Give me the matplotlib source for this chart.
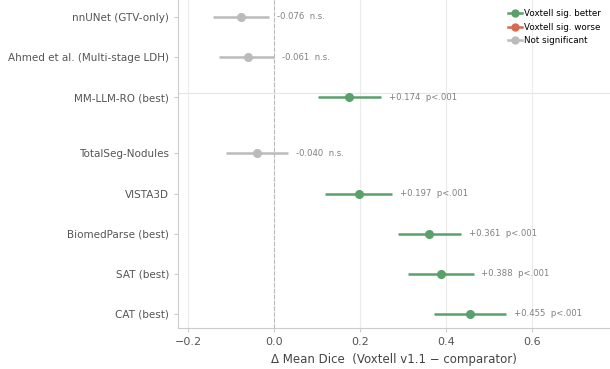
import matplotlib
matplotlib.use("Agg")
import matplotlib.pyplot as plt
from matplotlib.lines import Line2D

labels = ["CAT (best)", "SAT (best)", "BiomedParse (best)", "VISTA3D",
          "TotalSeg-Nodules", "MM-LLM-RO (best)", "Ahmed et al. (Multi-stage LDH)",
          "nnUNet (GTV-only)"]
ypos = [0, 1, 2, 3, 4, 5.4, 6.4, 7.4]
delta = [0.455, 0.388, 0.361, 0.197, -0.040, 0.174, -0.061, -0.076]
ci_lo = [0.372, 0.312, 0.288, 0.119, -0.112, 0.102, -0.128, -0.142]
ci_hi = [0.540, 0.464, 0.435, 0.274, 0.033, 0.249, 0.001, -0.012]
pval = ["p<.001", "p<.001", "p<.001", "p<.001", "n.s.", "p<.001", "n.s.", "n.s."]
sig = ["better", "better", "better", "better", "ns", "better", "ns", "ns"]

colors = {"better": "#59a06b", "worse": "#d9694f", "ns": "#bbbbbb"}

fig = plt.figure(figsize=(6.1, 3.69), dpi=100)
ax = fig.add_axes([0.292, 0.111, 0.708, 0.889])

for y, d, lo, hi, p, s in zip(ypos, delta, ci_lo, ci_hi, pval, sig):
    c = colors[s]
    ax.plot([lo, hi], [y, y], color=c, lw=1.8, solid_capstyle="butt", zorder=3)
    ax.plot([d], [y], "o", color=c, ms=5.5, zorder=4)
    ax.text(hi + 0.018, y, f"{d:+.3f}  {p}", va="center", ha="left",
            fontsize=6.1, color="#808080")

ax.axvline(0, color="#bbbbbb", lw=0.8, ls="--", zorder=1)
ax.axhline(5.5, color="#e6e6e6", lw=0.8, zorder=1)

ax.set_xlim(-0.223, 0.781)
ax.set_ylim(-0.35, 7.82)
ax.set_xticks([-0.2, 0.0, 0.2, 0.4, 0.6])
ax.set_xticklabels(["\u22120.2", "0.0", "0.2", "0.4", "0.6"])
ax.set_yticks(ypos)
ax.set_yticklabels(labels)
ax.grid(axis="x", color="#ebebeb", lw=0.8, zorder=0)
ax.set_axisbelow(True)
for side in ["top", "right"]:
    ax.spines[side].set_visible(False)
for side in ["left", "bottom"]:
    ax.spines[side].set_color("#cccccc")
ax.tick_params(axis="y", colors="#cccccc", labelcolor="#555555", labelsize=7.5, length=3)
ax.tick_params(axis="x", colors="#cccccc", labelcolor="#555555", labelsize=8, length=3)
ax.set_xlabel("\u0394 Mean Dice  (Voxtell v1.1 \u2212 comparator)", fontsize=8.5, color="#444444")

handles = [Line2D([0], [0], color=colors[k], marker="o", lw=1.8, ms=5)
           for k in ["better", "worse", "ns"]]
ax.legend(handles, ["Voxtell sig. better", "Voxtell sig. worse", "Not significant"],
          loc="upper right", frameon=False, fontsize=6.3, handlelength=1.6,
          handletextpad=0.3, labelspacing=0.55, borderaxespad=0.6,
          bbox_to_anchor=(1.0, 1.0))

fig.savefig("out.png", dpi=100)
